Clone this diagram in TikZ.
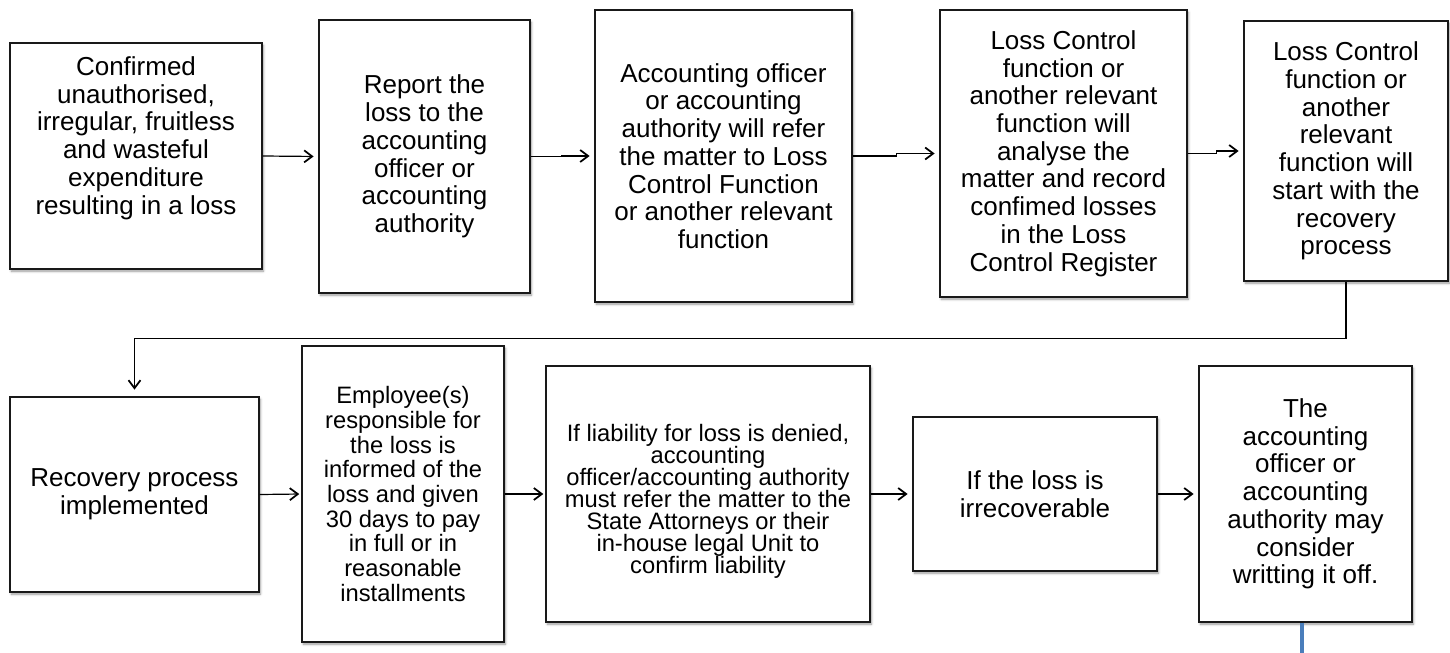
\documentclass[tikz,border=0pt]{standalone}
\usepackage{fontspec}
\setmainfont{Liberation Sans}
\usetikzlibrary{arrows.meta,shadows.blur}
\newcommand\tightfont{\fontsize{17.8}{16.5}\selectfont\setlength{\lineskiplimit}{-20pt}}

\begin{document}
\begin{tikzpicture}[
    x=0.75pt, y=-0.75pt,
    box/.style   = {draw=black!90,
                    line width=1.1pt,
                    fill=white,
                    align=center,
                    inner sep=2pt,
                    font=\fontsize{19.5}{20.8}\selectfont,
                    blur shadow={shadow xshift=1pt,
                                 shadow yshift=-1.6pt,
                                 shadow blur radius=1.8pt,
                                 shadow opacity=40}},
    small/.style = {font=\fontsize{17.8}{18.5}\selectfont},
    tight/.style = {font=\tightfont},
    arr/.style   = {line width=0.9pt,
                    -{Straight Barb[length=6pt,width=9pt,line width=1.3pt]},
                    shorten >=3.5pt}
]
\useasboundingbox (0,0) rectangle (1450,653);
\node (b1) [box, minimum width=189pt, minimum height=169.5pt, text depth=31pt] at (136,156) {
Confirmed\\ unauthorised,\\ irregular, fruitless\\ and wasteful\\ expenditure\\ resulting in a loss};
\node (b2) [box, minimum width=158.25pt, minimum height=204.75pt] at (424.5,156.5) {
Report the\\ loss to the\\ accounting\\ officer or\\ accounting\\ authority};
\node (b3) [box, minimum width=192.75pt, minimum height=219pt] at (723.5,156) {
Accounting officer\\ or accounting\\ authority will refer\\ the matter to Loss\\ Control Function\\ or another relevant\\ function};
\node (b4) [box, minimum width=185.25pt, minimum height=215.25pt] at (1063.5,153.5) {
Loss Control\\ function or\\ another relevant\\ function will\\ analyse the\\ matter and record\\ confimed losses\\ in the Loss\\ Control Register};
\node (b5) [box, minimum width=153pt, minimum height=195pt] at (1346,151) {
Loss Control\\ function or\\ another\\ relevant\\ function will\\ start with the\\ recovery\\ process};
\draw[arr] (b1.east) -- (b2.west);
\draw[arr] (b2.east) -- ++(31,0) |- (b3.west);
\draw[arr] (b3.east) -- ++(44,0) |- (b4.west);
\draw[arr] (b4.east) -- ++(29,0) |- (b5.west);
\node (b6) [box, minimum width=186.75pt, minimum height=146.25pt] at (134.5,494.5) {
Recovery process\\ implemented};
\node (b7) [box, small, minimum width=151.5pt, minimum height=222pt] at (403,494) {
Employee(s)\\ responsible for\\ the loss is\\ informed of the\\ loss and given\\ 30 days to pay\\ in full or in\\ reasonable\\ installments};
\node (b8) [box, tight, minimum width=243pt, minimum height=192pt, text height=123pt] at (708,494) {
If liability for loss is denied,\\ accounting\\ officer/accounting authority\\ must refer the matter to the\\ State Attorneys or their\\ in-house legal Unit to\\ confirm liability};
\node (b9) [box, minimum width=183pt, minimum height=115.5pt] at (1035,494) {
If the loss is\\ irrecoverable};
\node (b10) [box, minimum width=159.75pt, minimum height=192pt] at (1305.5,494) {
The\\ accounting\\ officer or\\ accounting\\ authority may\\ consider\\ writting it off.};
\draw[arr, shorten >=5pt] (b5.south) -- ++(0,57) -| (b6.north);
\draw[arr, shorten >=1.5pt] (b6.east) -- (b7.west);
\draw[arr, shorten >=1.5pt] (b7.east) -- (b8.west);
\draw[arr] (b8.east) -- (b9.west);
\draw[arr] (b9.east) -- (b10.west);
\coordinate (b10end) at ([xshift=-3pt]b10.south |- 0,653);
\draw[line width=3pt, color={rgb,255:red,74;green,126;blue,187}] ([xshift=-3pt]b10.south) -- (b10end);
\end{tikzpicture}
\end{document}
